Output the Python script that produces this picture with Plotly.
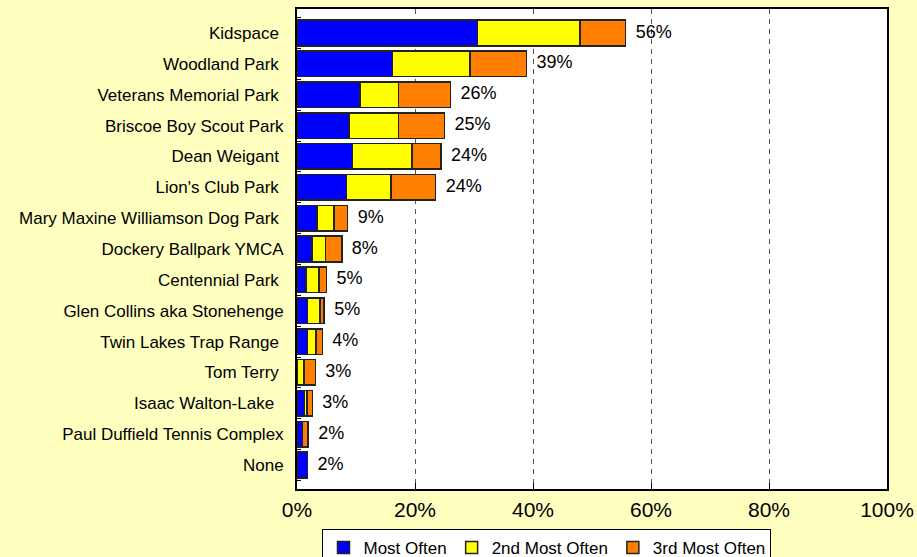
import plotly.graph_objects as go

categories = [
    "Kidspace ", "Woodland Park ", "Veterans Memorial Park ", "Briscoe Boy Scout Park",
    "Dean Weigant ", "Lion's Club Park ", "Mary Maxine Williamson Dog Park ",
    "Dockery Ballpark YMCA", "Centennial Park ", "Glen Collins aka Stonehenge",
    "Twin Lakes Trap Range ", "Tom Terry ", "Isaac Walton-Lake  ",
    "Paul Duffield Tennis Complex", "None",
]
most_often = [30.6, 16.2, 10.7, 8.8, 9.4, 8.4, 3.4, 2.5, 1.5, 1.8, 1.8, 0.0, 1.3, 0.9, 1.8]
second_most = [17.4, 13.1, 6.5, 8.4, 10.1, 7.5, 2.9, 2.3, 2.2, 2.1, 1.4, 1.2, 0.4, 0.0, 0.0]
third_most = [7.7, 9.6, 8.8, 7.8, 4.9, 7.6, 2.3, 2.8, 1.3, 0.7, 1.1, 1.9, 0.9, 1.0, 0.0]
total_labels = ["56%", "39%", "26%", "25%", "24%", "24%", "9%", "8%", "5%", "5%", "4%", "3%", "3%", "2%", "2%"]
series_names = ["Most Often", "2nd Most Often", "3rd Most Often"]
x_ticks = [0, 20, 40, 60, 80, 100]

FONT = "Arial, 'Liberation Sans', sans-serif"
colors = ["#0000FF", "#FFFF00", "#FF8000"]

def tick_text(c):
    s = c.rstrip()
    return s + "\u00a0" * (len(c) - len(s))

fig = go.Figure()
for name, vals, col in zip(series_names, [most_often, second_most, third_most], colors):
    fig.add_trace(go.Bar(
        y=categories, x=vals, name=name, orientation="h",
        marker=dict(color=col, line=dict(color="#222222", width=1.5)),
    ))

totals = [a + b + c for a, b, c in zip(most_often, second_most, third_most)]
fig.add_trace(go.Scatter(
    y=categories, x=totals, mode="text", text=["\u00a0\u00a0" + t for t in total_labels],
    textposition="middle right",
    textfont=dict(size=18, color="#000000", family=FONT),
    showlegend=False, hoverinfo="skip", cliponaxis=False,
))

fig.update_layout(
    barmode="stack",
    bargap=0.17,
    width=917, height=557,
    margin=dict(l=297, r=30, t=9, b=68, autoexpand=False),
    paper_bgcolor="#FFFFC0",
    plot_bgcolor="#FFFFFF",
    font=dict(family=FONT, color="#000000"),
    legend=dict(
        orientation="h", xref="container", yref="container",
        x=0.5965, xanchor="center", y=1 - 529 / 557, yanchor="top",
        bgcolor="#FFFFFF", bordercolor="#000000", borderwidth=1,
        font=dict(size=17, family=FONT), itemwidth=30, tracegroupgap=0,
        traceorder="normal",
    ),
    xaxis=dict(
        range=[0, 100], tickvals=x_ticks, ticktext=[f"{v}%" for v in x_ticks],
        showgrid=True, gridcolor="#555555", griddash="5px,5px", gridwidth=1,
        showline=True, linecolor="#000000", linewidth=2, mirror=True,
        ticks="inside", ticklen=6, tickcolor="#000000",
        tickfont=dict(size=21, family=FONT), ticklabelstandoff=1,
        zeroline=False, fixedrange=True,
    ),
    yaxis=dict(
        categoryorder="array", categoryarray=categories, autorange="reversed",
        tickvals=categories, ticktext=[tick_text(c) for c in categories],
        showline=True, linecolor="#000000", linewidth=2, mirror=True,
        ticks="inside", ticklen=4, tickcolor="#000000", tickson="boundaries",
        tickfont=dict(size=17, family=FONT), ticklabelstandoff=8,
        showgrid=False, zeroline=False, fixedrange=True,
    ),
)

fig.write_html(
    "out.html",
    config={"displayModeBar": False},
    post_script="document.body.style.margin='0';document.body.style.overflow='hidden';",
)
